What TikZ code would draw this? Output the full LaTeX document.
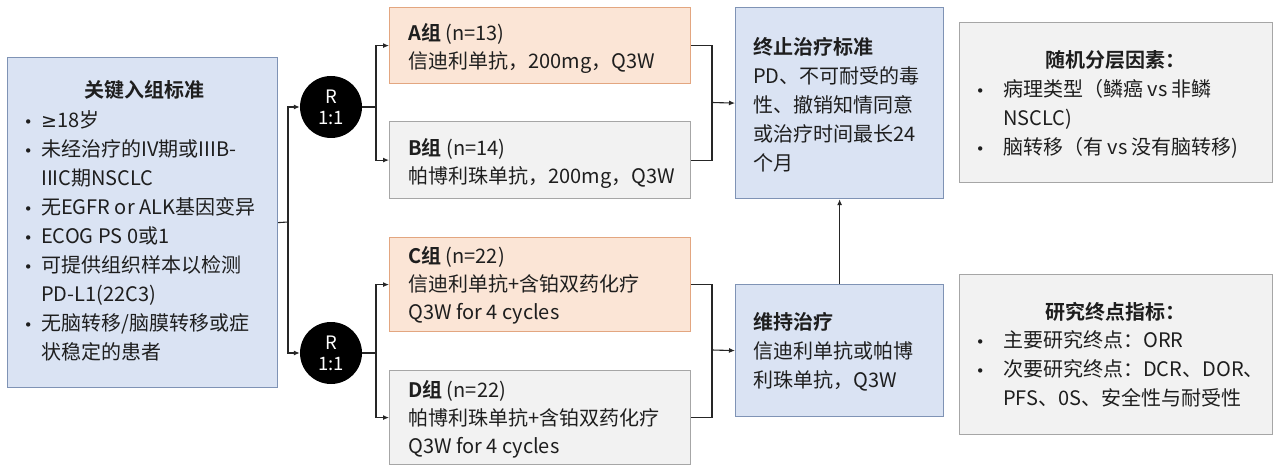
\documentclass[tikz,border=0pt]{standalone}
\usepackage{fontspec}
\setmainfont{Noto Sans CJK SC}[BoldFont={Noto Sans CJK SC Bold}]
\newfontfamily\symf{DejaVu Sans}
\usetikzlibrary{arrows.meta}
\definecolor{bluefill}{HTML}{DAE3F3}
\definecolor{bluebd}{HTML}{7F93B5}
\definecolor{peachfill}{HTML}{FBE5D6}
\definecolor{peachbd}{HTML}{E3A680}
\definecolor{grayfill}{HTML}{F2F2F2}
\definecolor{graybd}{HTML}{A6A6A6}
\definecolor{ink}{HTML}{1E1E1E}
\newcommand{\bl}[1]{\makebox[0pt][c]{{\symf\fontsize{15}{29}\selectfont •}}\hspace{#1}}
\newcommand{\ct}[1]{\hspace*{#1}}
\tikzset{
 basebox/.style={draw, line width=1.2pt, inner sep=0pt, anchor=north west},
 bluebox/.style={basebox, draw=bluebd, fill=bluefill},
 peachbox/.style={basebox, draw=peachbd, fill=peachfill},
 graybox/.style={basebox, draw=graybd, fill=grayfill},
 txt/.style={inner sep=0pt, anchor=north west, align=left, text=ink, font=\fontsize{20}{29}\selectfont},
 txtA/.style={txt, font=\fontsize{20}{28}\selectfont},
 ttl/.style={inner sep=0pt, text=ink, font=\fontsize{20}{29}\selectfont\bfseries},
 conn/.style={draw=black!85, line width=1.1pt},
 arr/.style={conn, -{Latex[length=6pt,width=5pt]}},
 rnd/.style={circle, fill=black, minimum size=62pt, inner sep=0pt, text=white, align=center, font=\fontsize{18.5}{21}\selectfont}
}
\begin{document}
\begin{tikzpicture}[x=1pt,y=-1pt]
\fill[white] (0,0) rectangle (1280,473);
\useasboundingbox (0,0) rectangle (1280,473);

% boxes
\node[bluebox, minimum width=270pt, minimum height=330pt] (incl) at (7,57) {};
\node[peachbox, minimum width=301pt, minimum height=76pt] (A) at (389,7) {};
\node[graybox, minimum width=301pt, minimum height=77pt] (B) at (389,121) {};
\node[peachbox, minimum width=301pt, minimum height=94pt] (C) at (389,237) {};
\node[graybox, minimum width=301pt, minimum height=94pt] (D) at (389,370) {};
\node[bluebox, minimum width=208pt, minimum height=191pt] (term) at (735,7) {};
\node[bluebox, minimum width=208pt, minimum height=132pt] (maint) at (735,284) {};
\node[graybox, minimum width=313pt, minimum height=160pt] (rand) at (959,22) {};
\node[graybox, minimum width=313pt, minimum height=160pt] (endp) at (959,274) {};

\node[rnd] (r1) at (331,107) {R\\1:1};
\node[rnd] (r2) at (331,353) {R\\1:1};

% texts
\node[ttl] (inclT) at (144,90) {关键入组标准};
\node[txt] (inclL) at (28,110) {\bl{13pt}{\symf\fontsize{19}{29}\selectfont ≥}18岁\\
\bl{13pt}未经治疗的IV期或IIIB-\\
\ct{13pt}IIIC期NSCLC\\
\bl{13pt}无EGFR or ALK基因变异\\
\bl{13pt}ECOG PS 0或1\\
\bl{13pt}可提供组织样本以检测\\
\ct{13pt}PD-L1(22C3)\\
\bl{13pt}无脑转移/脑膜转移或症\\
\ct{13pt}状稳定的患者};

\node[txtA] (At) at (408,23) {\textbf{A组} (n=13)\\信迪利单抗，200mg，Q3W};
\node[txtA] (Bt) at (408,138) {\textbf{B组} (n=14)\\帕博利珠单抗，200mg，Q3W};
\node[txtA] (Ct) at (408,246) {\textbf{C组} (n=22)\\信迪利单抗+含铂双药化疗\\Q3W for 4 cycles};
\node[txtA] (Dt) at (408,380) {\textbf{D组} (n=22)\\帕博利珠单抗+含铂双药化疗\\Q3W for 4 cycles};

\node[txt] (termT) at (753,37) {\textbf{终止治疗标准}\\PD、不可耐受的毒\\性、撤销知情同意\\或治疗时间最长24\\个月};
\node[txt] (maintT) at (753,312) {\textbf{维持治疗}\\信迪利单抗或帕博\\利珠单抗，Q3W};

\node[ttl] (randT) at (1115,60) {随机分层因素：};
\node[txt] (randL) at (980,79) {\bl{23pt}病理类型（鳞癌 vs 非鳞\\
\ct{23pt}NSCLC)\\
\bl{23pt}脑转移（有 vs 没有脑转移)};
\node[ttl] (endT) at (1115,312) {研究终点指标：};
\node[txt] (endL) at (980,330) {\bl{23pt}主要研究终点：ORR\\
\bl{23pt}次要研究终点：DCR、DOR、\\
\ct{23pt}PFS、0S、安全性与耐受性};

% connectors
\coordinate (j1) at (288,222);
\draw[conn] (incl.east) -- (j1);
\draw[arr] (j1) |- (r1.west);
\draw[arr] (j1) |- (r2.west);
\coordinate (j2) at (376,107);
\draw[conn] (r1.east) -- (j2);
\draw[arr] (j2) |- (A.west);
\draw[arr] (j2) |- (B.west);
\coordinate (j3) at (376,353);
\draw[conn] (r2.east) -- (j3);
\draw[arr] (j3) |- (C.west);
\draw[arr] (j3) |- (D.west);
\coordinate (j4) at (712,102.5);
\draw[conn] (A.east) -| (j4) |- (B.east);
\draw[arr] (j4) -- (term.west);
\coordinate (j5) at (712,350);
\draw[conn] (C.east) -| (j5) |- (D.east);
\draw[arr] (j5) -- (maint.west);
\draw[arr] (maint.north) -- (term.south);
\end{tikzpicture}
\end{document}
